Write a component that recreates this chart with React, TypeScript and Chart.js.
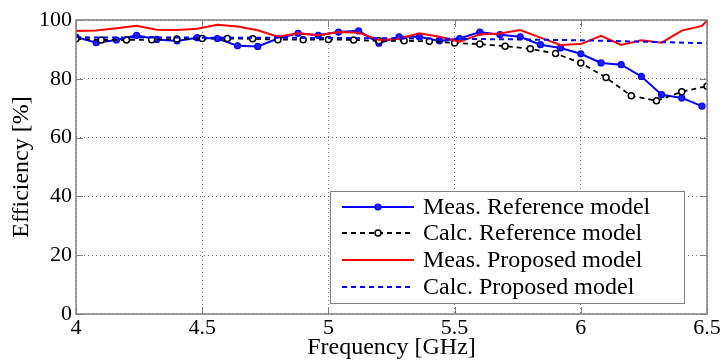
import React, { useEffect, useRef } from 'react';
import { Chart, registerables } from 'chart.js';

Chart.register(...registerables);

// ---- Data ----
const measRefFreq = [4.00, 4.08, 4.16, 4.24, 4.32, 4.40, 4.48, 4.56, 4.64, 4.72, 4.80, 4.88, 4.96, 5.04, 5.12, 5.20,
  5.28, 5.36, 5.44, 5.52, 5.60, 5.68, 5.76, 5.84, 5.92, 6.00, 6.08, 6.16, 6.24, 6.32, 6.40, 6.48];
const measRefEff = [94.2, 92.3, 93.2, 94.8, 93.4, 92.9, 94.0, 93.7, 91.2, 91.0, 93.7, 95.5, 94.8, 95.9, 96.3, 92.1,
  94.3, 94.3, 92.9, 93.7, 95.9, 95.0, 94.3, 91.6, 90.5, 88.5, 85.4, 84.8, 80.8, 74.6, 73.5, 70.7];

const calcRefFreq = [4.0, 4.1, 4.2, 4.3, 4.4, 4.5, 4.6, 4.7, 4.8, 4.9, 5.0, 5.1, 5.2, 5.3, 5.4, 5.5, 5.6, 5.7, 5.8,
  5.9, 6.0, 6.1, 6.2, 6.3, 6.4, 6.5];
const calcRefEff = [93.6, 93.2, 93.2, 93.3, 93.5, 93.7, 93.7, 93.6, 93.3, 93.3, 93.4, 93.2, 92.9, 92.9, 92.8, 92.2,
  91.8, 91.1, 90.2, 88.6, 85.4, 80.4, 74.2, 72.5, 75.6, 77.5];

const measPropFreq = [4.00, 4.08, 4.16, 4.24, 4.32, 4.40, 4.48, 4.56, 4.64, 4.72, 4.80, 4.88, 4.96, 5.04, 5.12, 5.20,
  5.28, 5.36, 5.44, 5.52, 5.60, 5.68, 5.76, 5.84, 5.92, 6.00, 6.08, 6.16, 6.24, 6.32, 6.40, 6.48, 6.50];
const measPropEff = [96.3, 96.4, 97.2, 98.0, 96.7, 96.6, 97.0, 98.4, 97.8, 96.5, 94.3, 95.5, 94.8, 95.9, 95.7, 93.2,
  93.6, 95.5, 94.3, 92.6, 95.1, 95.4, 96.6, 94.0, 91.5, 91.8, 94.6, 91.5, 93.1, 92.3, 96.4, 98.0, 99.8];

const calcPropFreq = [4.0, 4.5, 5.0, 5.5, 5.75, 6.0, 6.25, 6.5];
const calcPropEff = [94.1, 94.0, 93.9, 93.6, 93.4, 93.1, 92.6, 92.1];

const seriesNames = [
  'Meas. Reference model',
  'Calc. Reference model',
  'Meas. Proposed model',
  'Calc. Proposed model',
];

const xTicks = [4, 4.5, 5, 5.5, 6, 6.5];
const yTicks = [0, 20, 40, 60, 80, 100];

const FONT = '"Liberation Serif", "Times New Roman", serif';

const toPoints = (xs: number[], ys: number[]) => xs.map((x, i) => ({ x, y: ys[i] }));

const framePlugin = {
  id: 'frame',
  afterDatasetsDraw(chart: any) {
    const { ctx, chartArea: a, scales } = chart;
    ctx.save();
    ctx.setLineDash([]);
    ctx.strokeStyle = '#808080';
    ctx.lineWidth = 1;
    const tl = 7;
    const seg = (x1: number, y1: number, x2: number, y2: number) => {
      ctx.beginPath();
      ctx.moveTo(x1, y1);
      ctx.lineTo(x2, y2);
      ctx.stroke();
    };
    for (const v of xTicks) {
      const px = Math.round(scales.x.getPixelForValue(v)) + 0.5;
      seg(px, a.bottom, px, a.bottom - tl);
      seg(px, a.top, px, a.top + tl);
    }
    for (const v of yTicks) {
      const py = Math.round(scales.y.getPixelForValue(v)) + 0.5;
      seg(a.left, py, a.left + tl, py);
      seg(a.right, py, a.right - tl, py);
    }
    ctx.lineWidth = 1.5;
    ctx.strokeRect(a.left, a.top, a.right - a.left, a.bottom - a.top);
    ctx.restore();
  },
};

const legendPlugin = {
  id: 'boxLegend',
  afterDraw(chart: any) {
    const { ctx, chartArea: a } = chart;
    const bx = 330, by = 191, bw = 354, bh = 112;
    ctx.save();
    ctx.fillStyle = '#ffffff';
    ctx.fillRect(bx, by, bw, bh);
    ctx.strokeStyle = '#808080';
    ctx.lineWidth = 1;
    ctx.setLineDash([]);
    ctx.strokeRect(bx + 0.5, by + 0.5, bw, bh);
    const rows = [207, 233, 260, 287];
    const x1 = 342, x2 = 414, xm = 378;
    chart.data.datasets.forEach((ds: any, i: number) => {
      const y = rows[i];
      ctx.strokeStyle = ds.borderColor;
      ctx.lineWidth = ds.borderWidth;
      ctx.setLineDash(ds.borderDash || []);
      ctx.beginPath();
      ctx.moveTo(x1, y);
      ctx.lineTo(x2, y);
      ctx.stroke();
      ctx.setLineDash([]);
      if (ds.pointRadius > 0) {
        ctx.beginPath();
        ctx.arc(xm, y, ds.pointRadius, 0, Math.PI * 2);
        ctx.fillStyle = ds.pointBackgroundColor;
        ctx.fill();
        ctx.lineWidth = ds.pointBorderWidth;
        ctx.strokeStyle = ds.pointBorderColor;
        ctx.stroke();
      }
      ctx.fillStyle = '#000000';
      ctx.font = `24px ${FONT}`;
      ctx.textBaseline = 'middle';
      ctx.textAlign = 'left';
      ctx.fillText(seriesNames[i], 423, y + 1);
    });
    ctx.restore();
  },
};

export default function App() {
  const ref = useRef<HTMLCanvasElement | null>(null);
  useEffect(() => {
    document.body.style.margin = '0';
    const canvas = ref.current;
    if (!canvas) return;
    const chart = new Chart(canvas, {
      type: 'line',
      data: {
        datasets: [
          {
            label: seriesNames[0],
            data: toPoints(measRefFreq, measRefEff),
            borderColor: '#0000ff',
            borderWidth: 2,
            pointRadius: 3,
            pointBackgroundColor: '#2020ff',
            pointBorderColor: '#0000ff',
            pointBorderWidth: 1.2,
            tension: 0,
            order: 3,
          },
          {
            label: seriesNames[1],
            data: toPoints(calcRefFreq, calcRefEff),
            borderColor: '#000000',
            borderWidth: 1.8,
            borderDash: [5, 4],
            pointRadius: 3,
            pointBackgroundColor: '#ffffff',
            pointBorderColor: '#000000',
            pointBorderWidth: 1.5,
            tension: 0,
            order: 2,
          },
          {
            label: seriesNames[2],
            data: toPoints(measPropFreq, measPropEff),
            borderColor: '#ff0000',
            borderWidth: 2,
            pointRadius: 0,
            tension: 0,
            order: 1,
          },
          {
            label: seriesNames[3],
            data: toPoints(calcPropFreq, calcPropEff),
            borderColor: '#0000ff',
            borderWidth: 2,
            borderDash: [5, 4],
            pointRadius: 0,
            tension: 0,
            order: 0,
          },
        ],
      },
      options: {
        animation: false,
        responsive: false,
        devicePixelRatio: 1,
        layout: { padding: { top: 20, right: 17, left: 0, bottom: 0 } },
        plugins: {
          legend: { display: false },
          tooltip: { enabled: false },
        },
        scales: {
          x: {
            type: 'linear',
            min: 4,
            max: 6.5,
            afterFit: (s: any) => { s.height = 48; },
            afterBuildTicks: (s: any) => { s.ticks = xTicks.map((v) => ({ value: v })); },
            ticks: {
              autoSkip: false,
              maxRotation: 0,
              padding: 1,
              color: '#000000',
              font: { family: FONT, size: 22 },
              callback: (v: any) => String(v),
            },
            grid: { color: 'rgba(60,60,60,0.7)', lineWidth: 1, drawTicks: false },
            border: { display: false, dash: [1, 3] },
            title: {
              display: true,
              text: 'Frequency [GHz]',
              color: '#000000',
              font: { family: FONT, size: 24 },
              padding: { top: 0, bottom: 0 },
            },
          },
          y: {
            type: 'linear',
            min: 0,
            max: 100,
            afterFit: (s: any) => { s.width = 76; },
            afterBuildTicks: (s: any) => { s.ticks = yTicks.map((v) => ({ value: v })); },
            ticks: {
              padding: 4,
              color: '#000000',
              font: { family: FONT, size: 22 },
            },
            grid: { color: 'rgba(60,60,60,0.7)', lineWidth: 1, drawTicks: false },
            border: { display: false, dash: [1, 3] },
            title: {
              display: true,
              text: 'Efficiency [%]',
              color: '#000000',
              font: { family: FONT, size: 24 },
              padding: { top: 7, bottom: 0 },
            },
          },
        },
      },
      plugins: [framePlugin, legendPlugin],
    } as any);
    return () => chart.destroy();
  }, []);
  return (
    <div style={{ position: 'fixed', left: 0, top: 0, width: 724, height: 362, background: '#fff' }}>
      <canvas ref={ref} width={724} height={362} style={{ display: 'block' }} />
    </div>
  );
}
